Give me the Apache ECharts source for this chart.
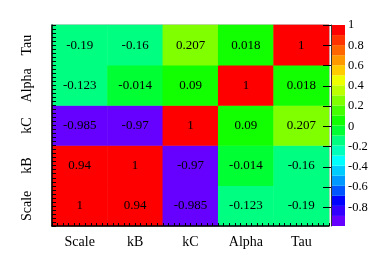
<!DOCTYPE html>
<html><head><meta charset="utf-8">
<script src="https://cdn.jsdelivr.net/npm/echarts@6/dist/echarts.min.js"></script>
<style>html,body{margin:0;padding:0;background:#fff}#c{width:374px;height:253px}</style>
</head><body><div id="c"></div>
<script>
const categories = ['Scale', 'kB', 'kC', 'Alpha', 'Tau'];
// rows from bottom (Scale) to top (Tau); columns Scale..Tau
const rowScale = [1, 0.94, -0.985, -0.123, -0.19];
const rowKB    = [0.94, 1, -0.97, -0.014, -0.16];
const rowKC    = [-0.985, -0.97, 1, 0.09, 0.207];
const rowAlpha = [-0.123, -0.014, 0.09, 1, 0.018];
const rowTau   = [-0.19, -0.16, 0.207, 0.018, 1];
const colorbarTicks = [-0.8, -0.6, -0.4, -0.2, 0, 0.2, 0.4, 0.6, 0.8, 1];
const zMin = -0.985, zMax = 1, nContours = 20;
const palette = ['#6600ff','#3300ff','#0000ff','#0055ff','#0099ff','#00ccff','#00ffff','#00ffbb','#00ff80','#00ff33',
                 '#11ff00','#44ff00','#80ff00','#bbff00','#eeff00','#ffcc00','#ff9900','#ff6600','#ff3300','#ff0000'];

const rows = [rowScale, rowKB, rowKC, rowAlpha, rowTau];
const heatData = [];
rows.forEach((r, yi) => r.forEach((v, xi) => heatData.push([xi, yi, v])));
const step = (zMax - zMin) / nContours;
const pieces = [], bands = [];
for (let k = 0; k < nContours; k++) {
  const lo = zMin + k * step, hi = zMin + (k + 1) * step;
  pieces.push({ gte: k === 0 ? -10 : lo, lt: k === nContours - 1 ? 10 : hi, color: palette[k] });
  bands.push([lo, hi, k]);
}
const font = 'Liberation Serif';
const chart = echarts.init(document.getElementById('c'), null, { renderer: 'canvas' });
chart.setOption({
  animation: false,
  backgroundColor: '#fff',
  grid: [
    { left: 52, top: 25, right: 45, bottom: 27, show: true, borderColor: '#999', borderWidth: 1, backgroundColor: 'transparent' },
    { left: 331, top: 25, width: 14, bottom: 27 }
  ],
  visualMap: { type: 'piecewise', show: false, seriesIndex: 0, dimension: 2, pieces: pieces },
  xAxis: [
    { type: 'category', gridIndex: 0, data: categories, position: 'bottom',
      axisLine: { lineStyle: { color: '#000', width: 1.5 } },
      axisTick: { alignWithLabel: true, inside: true, length: 6, lineStyle: { color: '#000' } },
      axisLabel: { interval: 0, fontFamily: font, fontSize: 14, color: '#000', margin: 9 },
      splitLine: { show: false }, z: 5 },
    { type: 'value', gridIndex: 0, min: 0, max: 50, interval: 1, position: 'bottom',
      axisLine: { show: false }, axisLabel: { show: false }, splitLine: { show: false },
      axisTick: { inside: true, length: 3, lineStyle: { color: '#000' } }, z: 5 },
    { type: 'value', gridIndex: 1, min: 0, max: 1, show: false }
  ],
  yAxis: [
    { type: 'category', gridIndex: 0, data: categories,
      axisLine: { lineStyle: { color: '#000', width: 1.5 } },
      axisTick: { alignWithLabel: true, inside: true, length: 8, lineStyle: { color: '#000' } },
      axisLabel: { interval: 0, fontFamily: font, fontSize: 14, color: '#000', rotate: 90, margin: 18 },
      splitLine: { show: false }, z: 5 },
    { type: 'value', gridIndex: 0, min: 0, max: 50, interval: 1, position: 'left',
      axisLine: { show: false }, axisLabel: { show: false }, splitLine: { show: false },
      axisTick: { inside: true, length: 4, lineStyle: { color: '#000' } }, z: 5 },
    { type: 'value', gridIndex: 1, min: zMin, max: zMax, position: 'right',
      axisLine: { show: true, lineStyle: { color: '#333', width: 1 } },
      axisTick: { inside: true, length: 8, customValues: colorbarTicks, lineStyle: { color: '#000' } },
      axisLabel: { customValues: colorbarTicks, fontFamily: font, fontSize: 12.5, color: '#000', margin: 3 },
      splitLine: { show: false }, z: 5 }
  ],
  series: [
    { type: 'heatmap', xAxisIndex: 0, yAxisIndex: 0, data: heatData,
      itemStyle: { borderWidth: 0 },
      label: { show: true, formatter: p => String(p.value[2]), fontFamily: font, fontSize: 13, color: '#000' } },
    { type: 'custom', xAxisIndex: 2, yAxisIndex: 2, data: bands,
      renderItem: (params, api) => {
        const p1 = api.coord([0, api.value(1)]);
        const p2 = api.coord([1, api.value(0)]);
        return { type: 'rect', shape: { x: p1[0], y: p1[1], width: p2[0] - p1[0], height: p2[1] - p1[1] },
                 style: { fill: palette[api.value(2)] } };
      } }
  ]
});
</script></body></html>
